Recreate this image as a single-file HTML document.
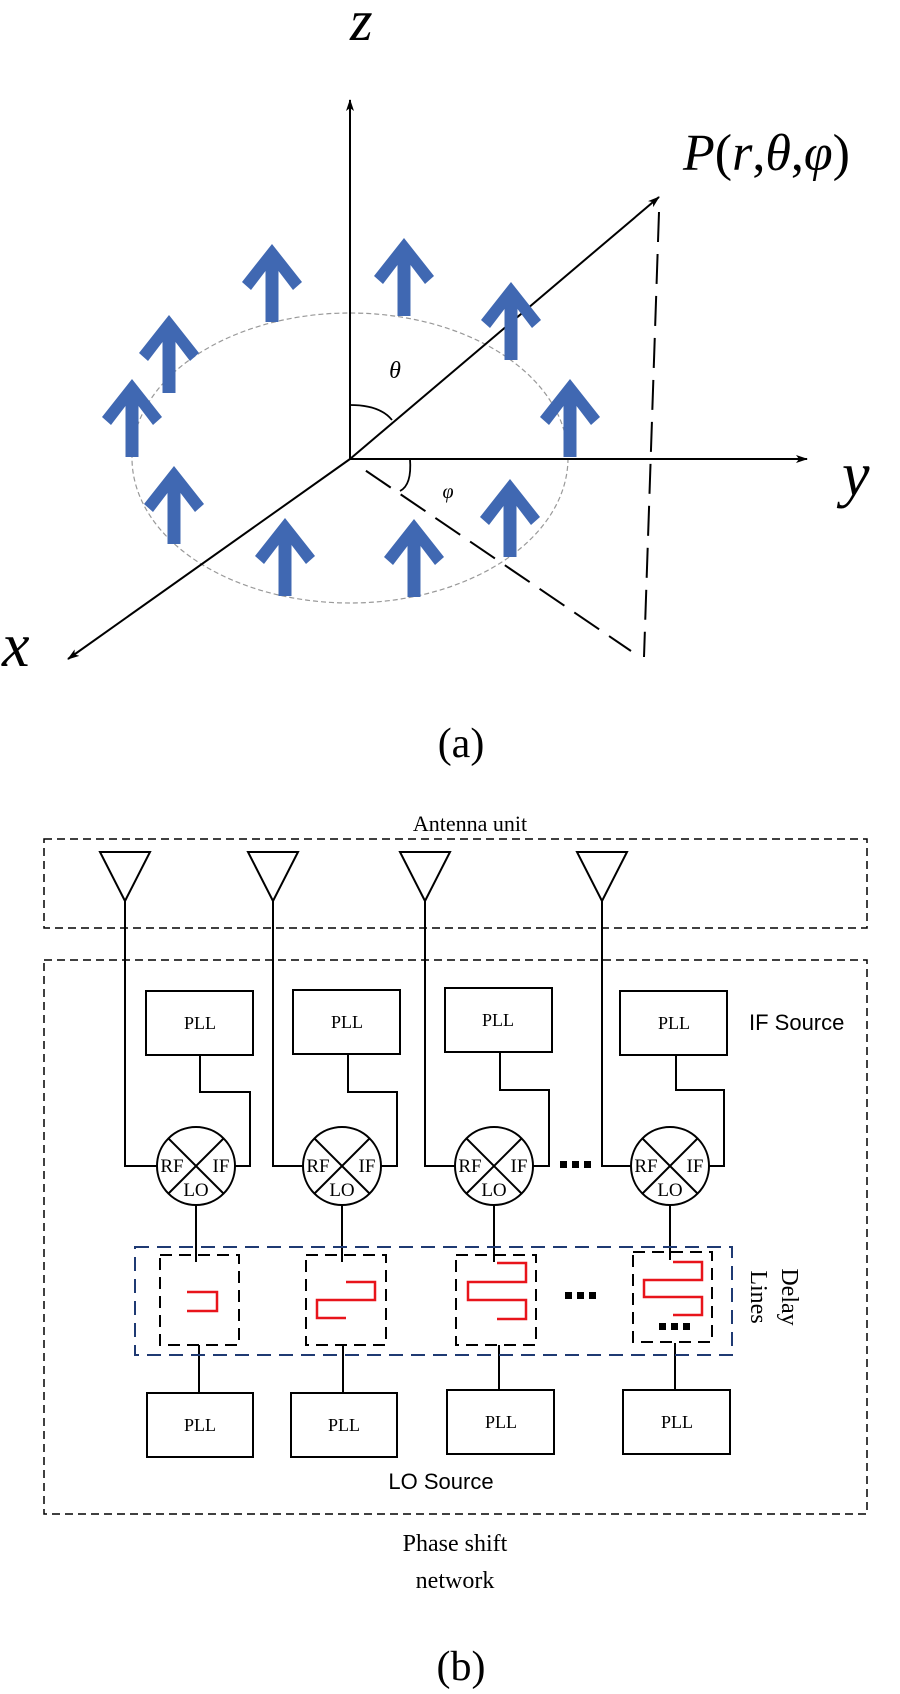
<!DOCTYPE html>
<html><head><meta charset="utf-8"><style>
html,body{margin:0;padding:0;background:#fff;}
svg{display:block;}
.s{font-family:"Liberation Serif",serif;}
.a{font-family:"Liberation Sans",sans-serif;}
</style></head><body>
<svg width="900" height="1694" viewBox="0 0 900 1694" xmlns="http://www.w3.org/2000/svg">
<defs>
<marker id="ah" viewBox="0 0 12 8" refX="11" refY="4" markerWidth="12" markerHeight="8" markerUnits="userSpaceOnUse" orient="auto"><path d="M0,0 L12,4 L0,8 L3,4 Z" fill="#000"/></marker>
<polygon id="bar" points="0,0 30,38 21,46 6.5,27 6.5,78 -6.5,78 -6.5,27 -21,46 -30,38" fill="#4068b2"/>
</defs>
<!-- (a) -->
<ellipse cx="350" cy="458" rx="218" ry="145" fill="none" stroke="#999" stroke-width="1.2" stroke-dasharray="5,3"/>
<line x1="350" y1="459" x2="350" y2="100" stroke="#000" stroke-width="2" marker-end="url(#ah)"/>
<line x1="350" y1="459" x2="807" y2="459" stroke="#000" stroke-width="2" marker-end="url(#ah)"/>
<line x1="350" y1="459" x2="68" y2="659" stroke="#000" stroke-width="2" marker-end="url(#ah)"/>
<line x1="350" y1="459" x2="659" y2="197" stroke="#000" stroke-width="2" marker-end="url(#ah)"/>
<line x1="659" y1="212" x2="644" y2="657" stroke="#000" stroke-width="2" stroke-dasharray="30,12"/>
<line x1="356" y1="464" x2="631" y2="651" stroke="#000" stroke-width="2" stroke-dasharray="30,12" stroke-dashoffset="-12"/>
<path d="M350,405 Q380,405 392,420" fill="none" stroke="#000" stroke-width="1.8"/>
<path d="M410,459 Q412,485 400,491" fill="none" stroke="#000" stroke-width="1.8"/>
<text x="395" y="378" class="s" font-size="24" font-style="italic" text-anchor="middle">θ</text>
<text x="448" y="498" class="s" font-size="20" font-style="italic" text-anchor="middle">φ</text>
<text x="350" y="40" class="s" font-size="58" font-style="italic">z</text>
<text x="842" y="495" class="s" font-size="62" font-style="italic">y</text>
<text x="2" y="666" class="s" font-size="62" font-style="italic">x</text>
<text x="683" y="170" class="s" font-size="52"><tspan font-style="italic">P</tspan>(<tspan font-style="italic">r</tspan>,<tspan font-style="italic">θ</tspan>,<tspan font-style="italic">φ</tspan>)</text>
<use href="#bar" x="272" y="244"/>
<use href="#bar" x="404" y="238"/>
<use href="#bar" x="169" y="315"/>
<use href="#bar" x="511" y="282"/>
<use href="#bar" x="132" y="379"/>
<use href="#bar" x="570" y="379"/>
<use href="#bar" x="174" y="466"/>
<use href="#bar" x="510" y="479"/>
<use href="#bar" x="285" y="518"/>
<use href="#bar" x="414" y="519"/>
<text x="461" y="757" class="s" font-size="42" text-anchor="middle">(a)</text>

<!-- (b) -->
<text x="470" y="831" class="s" font-size="22" text-anchor="middle">Antenna unit</text>
<g fill="none" stroke="#000" stroke-width="1.5" stroke-dasharray="8,5">
<rect x="44" y="839" width="823" height="89"/>
<rect x="44" y="960" width="823" height="554"/>
</g>
<g fill="none" stroke="#000" stroke-width="2">
<path d="M100,852 L150,852 L125,901 Z M125,901 V1166 H157"/>
<path d="M248,852 L298,852 L273,901 Z M273,901 V1166 H303"/>
<path d="M400,852 L450,852 L425,901 Z M425,901 V1166 H455"/>
<path d="M577,852 L627,852 L602,901 Z M602,901 V1166 H631"/>
<rect x="146" y="991" width="107" height="64"/>
<rect x="293" y="990" width="107" height="64"/>
<rect x="445" y="988" width="107" height="64"/>
<rect x="620" y="991" width="107" height="64"/>
<path d="M200,1055 V1092 H250 V1166 H235"/>
<path d="M348,1054 V1092 H397 V1166 H381"/>
<path d="M500,1052 V1090 H549 V1166 H533"/>
<path d="M676,1055 V1090 H724 V1166 H709"/>
<circle cx="196" cy="1166" r="39"/><path d="M168,1138 L224,1194 M224,1138 L168,1194"/>
<circle cx="342" cy="1166" r="39"/><path d="M314,1138 L370,1194 M370,1138 L314,1194"/>
<circle cx="494" cy="1166" r="39"/><path d="M466,1138 L522,1194 M522,1138 L466,1194"/>
<circle cx="670" cy="1166" r="39"/><path d="M642,1138 L698,1194 M698,1138 L642,1194"/>
<path d="M196,1205 V1262 M342,1205 V1262 M494,1205 V1262 M670,1205 V1260"/>
<path d="M199,1345 V1393 M343,1345 V1393 M499,1345 V1390 M675,1343 V1390"/>
<rect x="147" y="1393" width="106" height="64"/>
<rect x="291" y="1393" width="106" height="64"/>
<rect x="447" y="1390" width="107" height="64"/>
<rect x="623" y="1390" width="107" height="64"/>
</g>
<g class="s" font-size="18" text-anchor="middle">
<text x="200" y="1029">PLL</text><text x="347" y="1028">PLL</text><text x="498" y="1026">PLL</text><text x="674" y="1029">PLL</text>
<text x="200" y="1431">PLL</text><text x="344" y="1431">PLL</text><text x="501" y="1428">PLL</text><text x="677" y="1428">PLL</text>
</g>
<g class="s" font-size="19" text-anchor="middle">
<text x="172" y="1172">RF</text><text x="221" y="1172">IF</text><text x="196" y="1196">LO</text>
<text x="318" y="1172">RF</text><text x="367" y="1172">IF</text><text x="342" y="1196">LO</text>
<text x="470" y="1172">RF</text><text x="519" y="1172">IF</text><text x="494" y="1196">LO</text>
<text x="646" y="1172">RF</text><text x="695" y="1172">IF</text><text x="670" y="1196">LO</text>
</g>
<g fill="#000">
<rect x="560" y="1161" width="7" height="7"/><rect x="572" y="1161" width="7" height="7"/><rect x="584" y="1161" width="7" height="7"/>
<rect x="565" y="1292" width="7" height="7"/><rect x="577" y="1292" width="7" height="7"/><rect x="589" y="1292" width="7" height="7"/>
<rect x="659" y="1323" width="7" height="7"/><rect x="671" y="1323" width="7" height="7"/><rect x="683" y="1323" width="7" height="7"/>
</g>
<rect x="135" y="1247" width="597" height="108" fill="none" stroke="#1f3a73" stroke-width="2" stroke-dasharray="14,8"/>
<g fill="none" stroke="#000" stroke-width="2" stroke-dasharray="12,7">
<rect x="160" y="1255" width="79" height="90"/>
<rect x="306" y="1255" width="80" height="90"/>
<rect x="456" y="1255" width="80" height="90"/>
<rect x="633" y="1252" width="79" height="90"/>
</g>
<g fill="none" stroke="#e8141b" stroke-width="2.5">
<path d="M187,1292 H217 V1311 H187"/>
<path d="M346,1318 H317 V1300 H375 V1282 H346"/>
<path d="M497,1263 H526 V1282 H468 V1300 H526 V1319 H497"/>
<path d="M673,1262 H702 V1280 H644 V1297 H702 V1315 H673"/>
</g>
<text class="s" font-size="24" transform="translate(782,1297) rotate(90)" text-anchor="middle">Delay</text>
<text class="s" font-size="24" transform="translate(751,1297) rotate(90)" text-anchor="middle">Lines</text>
<text x="749" y="1030" class="a" font-size="22">IF Source</text>
<text x="441" y="1489" class="a" font-size="22" text-anchor="middle">LO Source</text>
<text x="455" y="1551" class="s" font-size="24" text-anchor="middle">Phase shift</text>
<text x="455" y="1588" class="s" font-size="24" text-anchor="middle">network</text>
<text x="461" y="1680" class="s" font-size="42" text-anchor="middle">(b)</text>
</svg>
</body></html>
